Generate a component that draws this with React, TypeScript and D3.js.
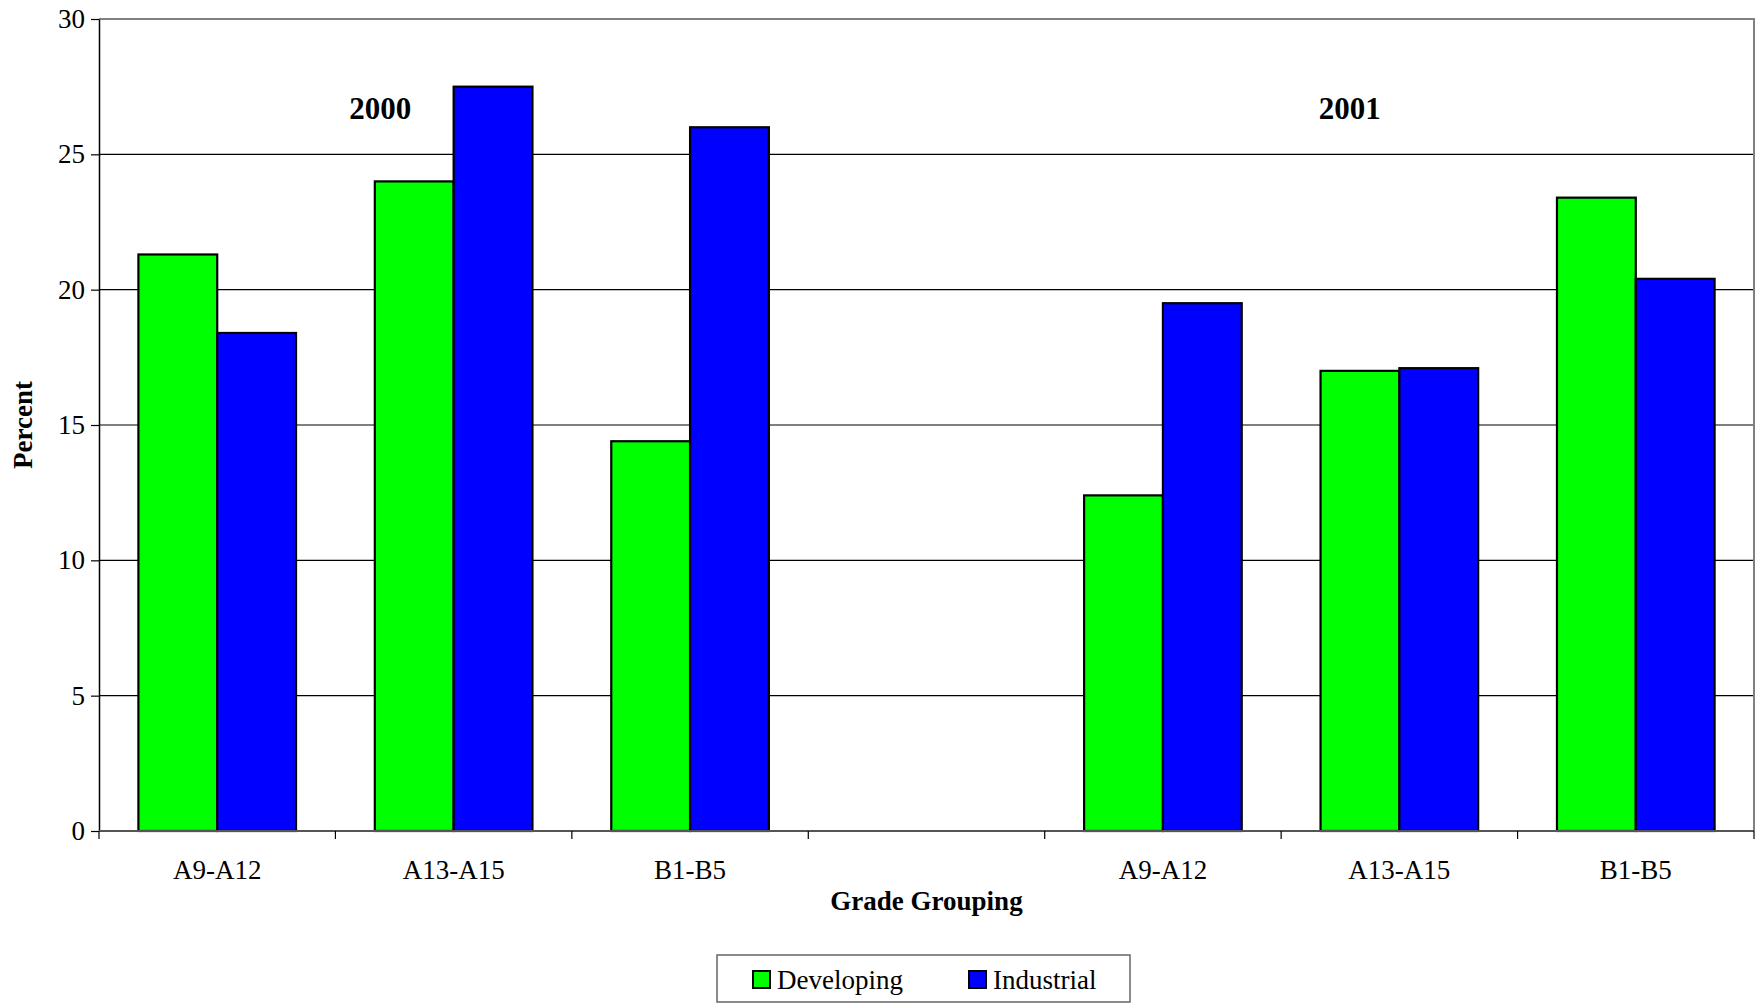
import * as d3 from "d3";
import { useRef, useEffect } from "react";

const categories = ["A9-A12", "A13-A15", "B1-B5", "", "A9-A12", "A13-A15", "B1-B5"];
const seriesNames = ["Developing", "Industrial"];
const seriesColors = ["#00FF00", "#0000FF"];
const developing = [21.3, 24.0, 14.4, null, 12.4, 17.0, 23.4];
const industrial = [18.4, 27.5, 26.0, null, 19.5, 17.1, 20.4];
const yTicks = [0, 5, 10, 15, 20, 25, 30];
const yearLabels = ["2000", "2001"];
const yearSlots = [1.19, 5.29];

const FONT = "'Liberation Serif', 'Times New Roman', Times, serif";

export default function App() {
  const width = 1762;
  const height = 1004;
  const marginLeft = 99;
  const marginRight = 8;
  const marginTop = 19;
  const marginBottom = 173;

  const ref = useRef(null);

  useEffect((): void => {
    if (!ref.current) return;
    const svg = d3.select(ref.current);
    svg.selectAll("*").remove();

    const x = d3
      .scaleBand<number>()
      .domain(categories.map((_, i) => i))
      .range([marginLeft, width - marginRight])
      .paddingInner(0)
      .paddingOuter(0);

    const xInner = d3
      .scaleBand<number>()
      .domain([0, 1])
      .range([0, x.bandwidth()])
      .paddingInner(0)
      .paddingOuter(0.5);

    const y = d3
      .scaleLinear()
      .domain([0, 30])
      .range([height - marginBottom, marginTop]);

    // gridlines
    svg
      .append("g")
      .selectAll("line")
      .data(yTicks.filter((t) => t > 0 && t < 30))
      .enter()
      .append("line")
      .attr("x1", marginLeft)
      .attr("x2", width - marginRight)
      .attr("y1", (d) => y(d))
      .attr("y2", (d) => y(d))
      .attr("stroke", "#000")
      .attr("stroke-width", 1.2);

    // frame top/right
    svg
      .append("path")
      .attr(
        "d",
        `M${marginLeft},${y(30)}H${width - marginRight}V${y(0)}`,
      )
      .attr("fill", "none")
      .attr("stroke", "#808080")
      .attr("stroke-width", 2);

    // bars
    const series = [developing, industrial];
    series.forEach((vals, s) => {
      svg
        .append("g")
        .selectAll("rect")
        .data(vals.map((v, i) => ({ v, i })).filter((d) => d.v !== null))
        .enter()
        .append("rect")
        .attr("x", (d) => (x(d.i) as number) + (xInner(s) as number))
        .attr("width", xInner.bandwidth())
        .attr("y", (d) => y(d.v as number))
        .attr("height", (d) => y(0) - y(d.v as number))
        .attr("fill", seriesColors[s])
        .attr("stroke", "#000")
        .attr("stroke-width", 2.2);
    });

    // y axis
    const yAxis = d3
      .axisLeft(y)
      .tickValues(yTicks)
      .tickSize(8)
      .tickSizeOuter(0)
      .tickPadding(6)
      .tickFormat(d3.format("d"));

    svg
      .append("g")
      .attr("transform", `translate(${marginLeft}, 0)`)
      .call(yAxis)
      .call((g) => g.select(".domain").attr("stroke", "#000").attr("stroke-width", 1.5))
      .call((g) => g.selectAll(".tick line").attr("stroke", "#000").attr("stroke-width", 1.2))
      .call((g) =>
        g
          .selectAll(".tick text")
          .attr("font-family", FONT)
          .attr("font-size", 27)
          .attr("fill", "#000"),
      );

    // x axis
    const slotEdges = categories.map((_, i) => x(i) as number).concat([width - marginRight]);
    const xg = svg.append("g");
    xg.append("line")
      .attr("x1", marginLeft)
      .attr("x2", width - marginRight)
      .attr("y1", y(0))
      .attr("y2", y(0))
      .attr("stroke", "#555")
      .attr("stroke-width", 2);
    xg.selectAll(".xt")
      .data(slotEdges)
      .enter()
      .append("line")
      .attr("class", "xt")
      .attr("x1", (d) => d)
      .attr("x2", (d) => d)
      .attr("y1", y(0))
      .attr("y2", y(0) + 8)
      .attr("stroke", "#000")
      .attr("stroke-width", 1.2);
    xg.selectAll(".xl")
      .data(categories.map((c, i) => ({ c, i })))
      .enter()
      .append("text")
      .attr("class", "xl")
      .attr("x", (d) => (x(d.i) as number) + x.bandwidth() / 2)
      .attr("y", y(0) + 39)
      .attr("text-anchor", "middle")
      .attr("dominant-baseline", "central")
      .attr("font-family", FONT)
      .attr("font-size", 27)
      .text((d) => d.c);

    // axis titles
    svg
      .append("text")
      .attr("x", (marginLeft + width - marginRight) / 2)
      .attr("y", 901)
      .attr("text-anchor", "middle")
      .attr("dominant-baseline", "central")
      .attr("font-family", FONT)
      .attr("font-weight", "bold")
      .attr("font-size", 27)
      .text("Grade Grouping");

    svg
      .append("text")
      .attr("transform", `translate(23, ${y(15)}) rotate(-90)`)
      .attr("text-anchor", "middle")
      .attr("dominant-baseline", "central")
      .attr("font-family", FONT)
      .attr("font-weight", "bold")
      .attr("font-size", 27)
      .text("Percent");

    // year labels
    svg
      .append("g")
      .selectAll("text")
      .data(yearLabels.map((t, i) => ({ t, slot: yearSlots[i] })))
      .enter()
      .append("text")
      .attr("x", (d) => marginLeft + d.slot * x.step())
      .attr("y", y(26.7))
      .attr("text-anchor", "middle")
      .attr("dominant-baseline", "central")
      .attr("font-family", FONT)
      .attr("font-weight", "bold")
      .attr("font-size", 31)
      .text((d) => d.t);

    // legend
    const lx = 717;
    const ly = 955;
    const lg = svg.append("g");
    lg.append("rect")
      .attr("x", lx)
      .attr("y", ly)
      .attr("width", 413)
      .attr("height", 47)
      .attr("fill", "#fff")
      .attr("stroke", "#666")
      .attr("stroke-width", 1.5);
    const itemX = [753, 969];
    seriesNames.forEach((name, i) => {
      lg.append("rect")
        .attr("x", itemX[i])
        .attr("y", 971)
        .attr("width", 17)
        .attr("height", 17)
        .attr("fill", seriesColors[i])
        .attr("stroke", "#000")
        .attr("stroke-width", 2);
      lg.append("text")
        .attr("x", itemX[i] + 24)
        .attr("y", 979.5)
        .attr("dominant-baseline", "central")
        .attr("font-family", FONT)
        .attr("font-size", 27)
        .text(name);
    });
  }, []);

  return (
    <svg
      ref={ref}
      width={width}
      height={height}
      style={{ position: "absolute", left: 0, top: 0, background: "#fff" }}
    />
  );
}
